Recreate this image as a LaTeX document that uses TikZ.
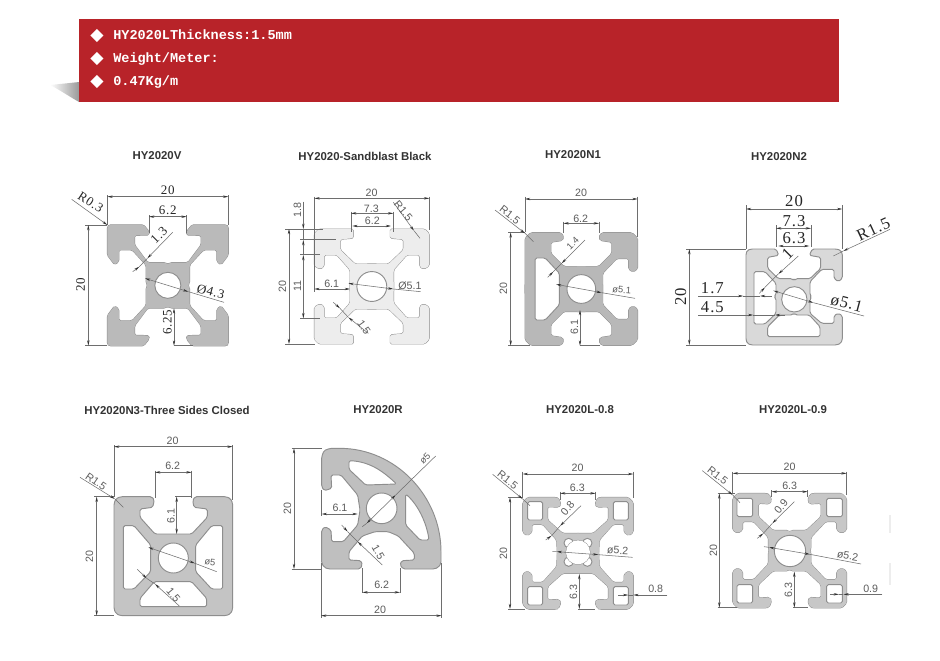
\documentclass[tikz,border=0pt]{standalone}
\usepackage{fontspec}
\setmainfont{Liberation Sans}
\newfontfamily\serdim[LetterSpace=6]{Liberation Serif}
\newfontfamily\monob{Liberation Mono}
\newfontfamily\dejav{DejaVu Sans}
\usetikzlibrary{arrows.meta}
\definecolor{hdr}{HTML}{B82329}
\definecolor{dimc}{HTML}{6E6E6E}
\definecolor{txtc}{HTML}{5C5C5C}
\definecolor{prof}{HTML}{8E8E8E}
\tikzset{
 dim/.style={draw=dimc,line width=.4pt},
 dimboth/.style={dim,{Stealth[length=4pt,width=1.8pt,black!80]}-{Stealth[length=4pt,width=1.8pt,black!80]}},
 dimto/.style={dim,-{Stealth[length=4pt,width=1.8pt,black!80]}},
 profline/.style={draw=prof,line width=.7pt,line join=round,rounded corners=1.2pt},
 lbs/.style={font=\fontsize{8}{8}\selectfont,text=txtc,inner sep=0pt},
 lbt/.style={font=\fontsize{7}{7}\selectfont,text=txtc,inner sep=0pt},
 lbv/.style={font=\fontsize{9.75}{10}\serdim,text=black!85,inner sep=0pt},
 lbn/.style={font=\fontsize{12.5}{12}\serdim,text=black!85,inner sep=0pt},
 ttl/.style={font=\fontsize{8.55}{8}\selectfont\bfseries,text=black!80,inner sep=0pt},
 hdt/.style={font=\fontsize{10.15}{11}\monob\bfseries,text=white,anchor=west,inner sep=0pt,text height=7pt,text depth=2pt},
 hdb/.style={font=\fontsize{13}{13}\dejav,text=white,inner sep=0pt},
 panel/.style={x=.25pt,y=-.25pt},
}
\newcommand\prof[5]{%
 \begin{scope}[shift={(#1,#2)},x=#3,y=#3]
 \def\q##1##2##3{\draw[profline,xscale=##1,yscale=##2] ##3 -- cycle;}
 \def\h##1{}#5
 \def\q##1##2##3{\fill[#4,rounded corners=1.2pt,xscale=##1,yscale=##2] ##3 -- cycle;}
 #5
 \def\q##1##2##3{}
 \def\h##1{\filldraw[profline,fill=white] ##1;}#5
 \end{scope}}
\newcommand\qq[1]{\q{1}{1}{#1}\q{-1}{1}{#1}\q{1}{-1}{#1}\q{-1}{-1}{#1}}
\begin{document}
\begin{tikzpicture}[x=.75pt,y=-.75pt]
\useasboundingbox (0,0) rectangle (940,661);
\fill[white] (0,0) rectangle (940,661);
% header
\shade[left color=white,right color=black!40] (50,85) .. controls (60,84) and (70,83) .. (79,82) -- (79,102) .. controls (70,97) and (60,90) .. (50,85) -- cycle;
\fill[hdr] (79,19) rectangle (839,102);
\node[hdb] (d1) at (97,36) {◆};
\node[hdb] (d2) at (97,59) {◆};
\node[hdb] (d3) at (97,82) {◆};
\node[hdt] (h1) at (113,36) {HY2020LThickness:1.5mm};
\node[hdt] (h2) at (113,59) {Weight/Meter:};
\node[hdt] (h3) at (113,82) {0.47Kg/m};
% titles
\node[ttl] (t1) at (157,156) {HY2020V};
\node[ttl] (t2) at (365,156) {HY2020-Sandblast Black};
\node[ttl] (t3) at (573,155) {HY2020N1};
\node[ttl] (t4) at (779,157) {HY2020N2};
\node[ttl] (t5) at (167,410) {HY2020N3-Three Sides Closed};
\node[ttl] (t6) at (378,410) {HY2020R};
\node[ttl] (t7) at (580,410) {HY2020L-0.8};
\node[ttl] (t8) at (793,410) {HY2020L-0.9};
% faint marks
\draw[black!7,line width=.8pt] (890,515) -- (890,533) (890,563) -- (890,585);

% ---- V
\begin{scope}[shift={(60,170)},panel]
\prof{323.5}{346}{4.54pt}{black!27}{%
 \qq{(-1,-1)--(-1,3.45)--(0,3.45)--(.35,3.75)--(3.3,3.75)--(5.5,6.7)--(5.5,8.25)--(3.1,8.3)--(3.1,8.9)--(4,10)--(9.7,10)--(10,9.7)--(10,5)--(8.8,3.4)--(8.1,3.9)--(8.1,5.85)--(5.9,5.85)--(3.6,3.35)--(3.6,.35)--(3.3,0)--(3.3,-1)}
 \h{(0,0) circle[radius=2.15]}}
\draw[dim] (142,75)--(142,165) (505,75)--(505,165) (267,135)--(267,190) (380,135)--(380,190) (75,165)--(142,165) (75,527)--(142,527) (342,527)--(400,527);
\draw[dimboth] (142,80)--(505,80);
\draw[dimboth] (267,140)--(380,140);
\draw[dimboth] (85,165)--(85,527);
\draw[dimboth] (342,415)--(342,527);
\draw[dimto] (35,88)--(142,165);
\draw[dim] (238,290)--(262,265);
\draw[dimto] (218,305)--(238,290);
\draw[dimto] (338,187)--(262,265);
\draw[dimboth] (255,325)--(385,365);
\draw[dim] (385,365)--(492,397);
\node[lbv] (v1) at (323,60) {20};
\node[lbv] (v2) at (323,120) {6.2};
\node[lbv,rotate=-33] (v3) at (92,97) {R0.3};
\node[lbv,rotate=90] (v4) at (62,345) {20};
\node[lbv,rotate=45] (v5) at (297,197) {1.3};
\node[lbv,rotate=-15] (v6) at (452,365) {Ø4.3};
\node[lbv,rotate=90] (v7) at (322,457) {6.25};
\end{scope}

% ---- Sandblast
\begin{scope}[shift={(265,170)},panel]
\prof{320.5}{349.5}{4.3125pt}{black!7}{%
 \qq{(-1,-1)--(-1,3.9)--(2.9,3.9)--(5.5,6.4)--(5.5,8.2)--(3.2,8.4)--(3.2,10)--(9.2,10)--(10,9.2)--(10,3.6)--(9,3)--(8.3,3.5)--(8.3,5.5)--(6.1,5.5)--(3.8,2.9)--(3.8,-1)}
 \h{(0,0) circle[radius=2.6]}}
\draw[dim] (148,80)--(148,365) (493,80)--(493,180) (258,125)--(258,185) (385,125)--(385,185) (60,177)--(175,177) (60,522)--(150,522) (105,208)--(212,208) (105,253)--(165,253) (105,445)--(165,445);
\draw[dimboth] (148,85)--(493,85);
\draw[dimboth] (258,130)--(385,130);
\draw[dimboth] (262,168)--(378,168);
\draw[dimboth] (72,177)--(72,522);
\draw[dim] (115,177)--(115,210) (115,240)--(115,255);
\draw[dimto] (115,95)--(115,177);
\draw[dimto] (115,240)--(115,210);
\draw[dimboth] (115,255)--(115,445);
\draw[dimboth] (148,357)--(255,357);
\draw[dimto] (385,97)--(447,182);
\draw[dim] (447,182)--(465,205);
\draw[dimboth] (250,340)--(385,357);
\draw[dim] (385,357)--(467,365);
\draw[dim] (225,415)--(250,442);
\draw[dimto] (205,397)--(225,415);
\draw[dimto] (310,490)--(250,442);
\node[lbs] (s1) at (320,68) {20};
\node[lbs] (s2) at (319,115) {7.3};
\node[lbs] (s3) at (322,153) {6.2};
\node[lbs,rotate=-50] (s4) at (415,122) {R1.5};
\node[lbs,rotate=90] (s5) at (52,350) {20};
\node[lbs,rotate=90] (s6) at (97,120) {1.8};
\node[lbs,rotate=90] (s7) at (97,348) {11};
\node[lbs] (s8) at (200,342) {6.1};
\node[lbs] (s9) at (435,347) {Ø5.1};
\node[lbs,rotate=-55] (s10) at (297,472) {1.5};
\end{scope}

% ---- N1
\begin{scope}[shift={(480,170)},panel]
\prof{304}{357}{4.225pt}{black!28}{%
 \q{1}{1}{(-1,-1)--(-1,4)--(3.1,4)--(5.4,6.3)--(5.4,8.3)--(3.4,8.6)--(3.1,9.2)--(3.6,10)--(9,10)--(10,9)--(10,3.6)--(9.2,3)--(8.4,3.5)--(8.4,5.4)--(6.3,5.4)--(3.8,2.8)--(3.8,-1)}
 \q{1}{-1}{(-1,-1)--(-1,4)--(3.1,4)--(5.4,6.3)--(5.4,8.3)--(3.4,8.6)--(3.1,9.2)--(3.6,10)--(9,10)--(10,9)--(10,3.6)--(9.2,3)--(8.4,3.5)--(8.4,5.4)--(6.3,5.4)--(3.8,2.8)--(3.8,-1)}
 \q{-1}{1}{(-1,-1)--(-1,4)--(3.1,4)--(5.4,6.3)--(5.4,8.3)--(3.4,8.6)--(3.1,9.2)--(3.6,10)--(9,10)--(10,9)--(10,-1)}
 \q{-1}{-1}{(-1,-1)--(-1,4)--(3.1,4)--(5.4,6.3)--(5.4,8.3)--(3.4,8.6)--(3.1,9.2)--(3.6,10)--(9,10)--(10,9)--(10,-1)}
 \h{(-8.2,5.5)--(-6.4,5.5)--(-3.9,2.8)--(-3.9,-2.8)--(-6.4,-5.5)--(-8.2,-5.5)--cycle}
 \h{(0,0) circle[radius=2.55]}}
\draw[dim] (135,80)--(135,187) (473,80)--(473,200) (250,155)--(250,190) (357,155)--(357,190) (85,187)--(135,187) (85,527)--(150,527) (300,527)--(360,527);
\draw[dimboth] (135,87)--(473,87);
\draw[dimboth] (250,160)--(357,160);
\draw[dimboth] (92,187)--(92,527);
\draw[dimboth] (300,420)--(300,527);
\draw[dimto] (45,120)--(135,190);
\draw[dim] (135,190)--(160,215);
\draw[dim] (220,305)--(245,280);
\draw[dimto] (203,322)--(220,305);
\draw[dimto] (315,210)--(245,280);
\draw[dimboth] (228,343)--(365,368);
\draw[dim] (365,368)--(465,385);
\node[lbs] (a1) at (303,68) {20};
\node[lbs] (a2) at (302,145) {6.2};
\node[lbs,rotate=-38] (a3) at (90,135) {R1.5};
\node[lbs,rotate=90] (a4) at (70,355) {20};
\node[lbt,rotate=45] (a5) at (278,220) {1.4};
\node[lbt,rotate=-5] (a6) at (425,360) {ø5.1};
\node[lbs,rotate=90] (a7) at (283,470) {6.1};
\end{scope}

% ---- N2
\begin{scope}[shift={(670,170)},panel]
\filldraw[profline,fill=black!15,even odd rule]
 (228,250)--(232,241)--(243,237)--(318,237)--(322,245)--(326,256)--(293,262)--(293,295)--(325,326)--(367,326)--(372,332)--(377,326)--(420,326)--(452,295)--(452,262)--(418,256)--(423,245)--(427,237)--(500,237)--(512,241)--(517,250)--(517,325)--(505,335)--(492,325)--(492,298)--(455,298)--(420,335)--(420,375)--(425,381)--(420,387)--(420,430)--(455,460)--(492,460)--(492,437)--(505,430)--(517,437)--(517,510)--(512,520)--(500,525)--(243,525)--(232,520)--(228,510)--cycle
 (252,305)--(285,305)--(318,340)--(318,375)--(312,380)--(318,385)--(318,430)--(285,462)--(252,462)--cycle
 (293,470)--(328,435)--(367,435)--(372,429)--(377,435)--(418,435)--(450,470)--(450,500)--(293,500)--cycle;
\filldraw[profline,fill=white] (373,388) circle[radius=38];
\draw[dim] (228,105)--(228,237) (517,105)--(517,237) (318,165)--(318,232) (423,165)--(423,232) (48,237)--(228,237) (48,525)--(228,525);
\draw[dimboth] (228,117)--(517,117);
\draw[dimboth] (318,175)--(423,175);
\draw[dimboth] (325,228)--(418,228);
\draw[dimboth] (58,237)--(58,525);
\draw[dim] (285,352)--(325,312);
\draw[dimto] (268,370)--(285,352);
\draw[dimto] (385,258)--(325,312);
\draw[dimto] (660,178)--(520,243);
\draw[dim] (520,243)--(490,258);
\draw[dim] (220,378)--(270,378);
\draw[dimto] (85,378)--(220,378);
\draw[dimto] (305,378)--(270,378);
\draw[dim] (250,435)--(315,435);
\draw[dimto] (85,435)--(250,435);
\draw[dimto] (345,435)--(315,435);
\draw[dimboth] (310,362)--(430,398);
\draw[dim] (430,398)--(582,438);
\node[lbn] (b1) at (372,92) {20};
\node[lbn] (b2) at (372,152) {7.3};
\node[lbn] (b3) at (372,205) {6.3};
\node[lbn,rotate=45] (b4) at (352,250) {1};
\node[lbn,rotate=25] (b5) at (610,178) {R1.5};
\node[lbn,rotate=90] (b6) at (32,380) {20};
\node[lbn] (b7) at (127,355) {1.7};
\node[lbn] (b8) at (127,412) {4.5};
\node[lbn,rotate=-15] (b9) at (530,400) {ø5.1};
\end{scope}

% ---- N3
\begin{scope}[shift={(60,430)},panel]
\filldraw[profline,fill=black!23,even odd rule]
 (162,220)--(168,206)--(182,200)--(275,200)--(283,210)--(278,232)--(240,237)--(240,262)--(285,312)--(395,312)--(442,262)--(442,237)--(402,232)--(398,212)--(405,200)--(498,200)--(512,206)--(518,220)--(518,537)--(512,551)--(498,557)--(182,557)--(168,551)--(162,537)--cycle
 (190,287)--(222,287)--(272,345)--(272,425)--(222,477)--(190,477)--cycle
 (488,287)--(455,287)--(407,345)--(407,425)--(455,477)--(488,477)--cycle
 (240,530)--(240,505)--(283,455)--(395,455)--(440,505)--(440,530)--cycle;
\filldraw[profline,fill=white] (340,384) circle[radius=45];
\draw[dim] (162,45)--(162,200) (518,45)--(518,210) (285,122)--(285,205) (395,122)--(395,205) (103,200)--(162,200) (103,557)--(162,557) (345,200)--(395,200);
\draw[dimboth] (162,50)--(518,50);
\draw[dimboth] (285,127)--(395,127);
\draw[dimboth] (110,200)--(110,557);
\draw[dimboth] (350,200)--(350,312);
\draw[dimto] (60,142)--(165,207);
\draw[dim] (165,207)--(190,232);
\draw[dimboth] (265,352)--(405,400);
\draw[dim] (405,400)--(470,425);
\draw[dim] (260,445)--(285,462);
\draw[dimto] (232,418)--(260,445);
\draw[dimto] (358,528)--(285,462);
\node[lbs] (c1) at (338,33) {20};
\node[lbs] (c2) at (338,108) {6.2};
\node[lbs,rotate=-35] (c3) at (108,155) {R1.5};
\node[lbs,rotate=90] (c4) at (88,380) {20};
\node[lbs,rotate=90] (c5) at (333,258) {6.1};
\node[lbt,rotate=-5] (c6) at (450,397) {ø5};
\node[lbs,rotate=-50] (c7) at (340,495) {1.5};
\end{scope}

% ---- R
\begin{scope}[shift={(275,430)},panel]
\filldraw[profline,fill=black!25,even odd rule]
 (140,80)--(147,62)--(165,55)--(190,55) .. controls (360,55) and (498,197) .. (498,370)--(498,400)--(490,412)--(478,417)--(385,417)--(375,405)--(380,392)--(418,390)--(418,370)--(370,318)--(340,305)--(300,305)--(262,318)--(222,365)--(222,390)--(258,392)--(262,405)--(255,417)--(160,417)--(148,412)--(140,400)--(140,300)--(150,290)--(168,300)--(170,335)--(205,335)--(248,285)--(255,240)--(248,195)--(198,135)--(168,135)--(170,175)--(148,182)--(140,170)--cycle
 (222,92) .. controls (290,95) and (330,130) .. (365,162)--(272,165)--(222,118)--cycle
 (392,192) .. controls (430,225) and (455,280) .. (462,330)--(435,330)--(392,285)--cycle;
\filldraw[profline,fill=white] (320,235) circle[radius=46];
\draw[dim] (50,55)--(140,55) (50,417)--(140,417) (138,180)--(138,258) (138,400)--(138,565) (500,400)--(500,565) (262,415)--(262,490) (375,415)--(375,490);
\draw[dimboth] (57,55)--(57,417);
\draw[dimboth] (140,252)--(248,252);
\draw[dimboth] (262,487)--(375,487);
\draw[dimboth] (138,557)--(500,557);
\draw[dimboth] (275,280)--(362,195);
\draw[dim] (262,290)--(275,280) (362,195)--(482,78);
\draw[dim] (218,305)--(248,335);
\draw[dimto] (200,285)--(218,305);
\draw[dimto] (322,405)--(248,335);
\node[lbs,rotate=90] (e1) at (37,235) {20};
\node[lbs] (e2) at (195,232) {6.1};
\node[lbt,rotate=45] (e3) at (450,85) {ø5};
\node[lbs,rotate=-60] (e4) at (310,367) {1.5};
\node[lbs] (e5) at (320,465) {6.2};
\node[lbs] (e6) at (315,538) {20};
\end{scope}

% ---- L-0.8
\begin{scope}[shift={(480,445)},panel]
\prof{294}{325}{.25pt}{black!22}{%
 \qq{(-5,-5)--(-5,60)--(46,60)--(91,100)--(91,140)--(58,138)--(51,147)--(58,165)--(66,168)--(151,168)--(166,153)--(166,63)--(153,53)--(138,63)--(138,87)--(106,87)--(64,40)--(62,-5)}
 \h{(106,155)--(151,155)--(151,100)--(106,100)--cycle}
 \h{(-106,155)--(-151,155)--(-151,100)--(-106,100)--cycle}
 \h{(106,-155)--(151,-155)--(151,-100)--(106,-100)--cycle}
 \h{(-106,-155)--(-151,-155)--(-151,-100)--(-106,-100)--cycle}
 \h{(0,3) circle[radius=36] (28,31) circle[radius=14] (-28,31) circle[radius=14] (28,-25) circle[radius=14] (-28,-25) circle[radius=14]}
 \fill[white] (0,3) circle[radius=36];}
\draw[dim] (128,80)--(128,157) (460,80)--(460,160) (240,140)--(240,165) (347,140)--(347,165) (85,157)--(128,157) (85,492)--(135,492) (295,492)--(345,492);
\draw[dimboth] (128,87)--(460,87);
\draw[dimboth] (240,145)--(347,145);
\draw[dimboth] (90,157)--(90,492);
\draw[dimboth] (298,387)--(298,492);
\draw[dimto] (38,88)--(128,162);
\draw[dim] (128,162)--(150,182);
\draw[dim] (215,272)--(240,243);
\draw[dimto] (197,285)--(215,272);
\draw[dimto] (303,182)--(240,243);
\draw[dimboth] (230,320)--(355,329);
\draw[dim] (355,329)--(458,337) (217,320)--(230,320);
\draw[dim] (445,450)--(460,450);
\draw[dimto] (415,450)--(445,450);
\draw[dimto] (562,450)--(460,450);
\node[lbs] (f1) at (293,68) {20};
\node[lbs] (f2) at (292,127) {6.3};
\node[lbs,rotate=-38] (f3) at (83,105) {R1.5};
\node[lbs,rotate=90] (f4) at (70,325) {20};
\node[lbs,rotate=50] (f5) at (263,190) {0.8};
\node[lbs,rotate=-3] (f6) at (413,316) {ø5.2};
\node[lbs,rotate=90] (f7) at (280,440) {6.3};
\node[lbs] (f8) at (527,432) {0.8};
\end{scope}

% ---- L-0.9
\begin{scope}[shift={(695,450)},panel]
\prof{284}{302}{.25pt}{black!22}{%
 \qq{(-5,-5)--(-5,55)--(0,55)--(5,61)--(50,61)--(94,102)--(94,142)--(61,140)--(54,150)--(61,169)--(71,172)--(156,172)--(171,157)--(171,62)--(156,52)--(141,62)--(141,87)--(108,87)--(64,40)--(64,5)--(60,0)--(60,-5)}
 \h{(111,157)--(158,157)--(158,102)--(111,102)--cycle}
 \h{(-111,157)--(-158,157)--(-158,102)--(-111,102)--cycle}
 \h{(111,-157)--(158,-157)--(158,-102)--(111,-102)--cycle}
 \h{(-111,-157)--(-158,-157)--(-158,-102)--(-111,-102)--cycle}
 \h{(1,-1) circle[radius=47]}}
\draw[dim] (113,65)--(113,130) (455,65)--(455,135) (230,120)--(230,140) (338,120)--(338,140) (68,130)--(120,130) (68,473)--(125,473) (295,473)--(340,473);
\draw[dimboth] (113,70)--(455,70);
\draw[dimboth] (230,125)--(338,125);
\draw[dimboth] (73,130)--(73,473);
\draw[dimboth] (298,365)--(298,473);
\draw[dimto] (22,62)--(113,135);
\draw[dim] (113,135)--(135,158);
\draw[dim] (205,250)--(232,220);
\draw[dimto] (187,265)--(205,250);
\draw[dimto] (298,155)--(232,220);
\draw[dimboth] (222,292)--(345,313);
\draw[dim] (345,313)--(498,342) (207,290)--(222,292);
\draw[dim] (432,433)--(445,433);
\draw[dimto] (405,433)--(432,433);
\draw[dimto] (562,433)--(445,433);
\node[lbs] (g1) at (284,50) {20};
\node[lbs] (g2) at (284,107) {6.3};
\node[lbs,rotate=-38] (g3) at (68,77) {R1.5};
\node[lbs,rotate=90] (g4) at (55,302) {20};
\node[lbs,rotate=50] (g5) at (258,170) {0.9};
\node[lbs,rotate=-10] (g6) at (458,317) {ø5.2};
\node[lbs,rotate=90] (g7) at (280,420) {6.3};
\node[lbs] (g8) at (527,415) {0.9};
\end{scope}
\end{tikzpicture}
\end{document}
